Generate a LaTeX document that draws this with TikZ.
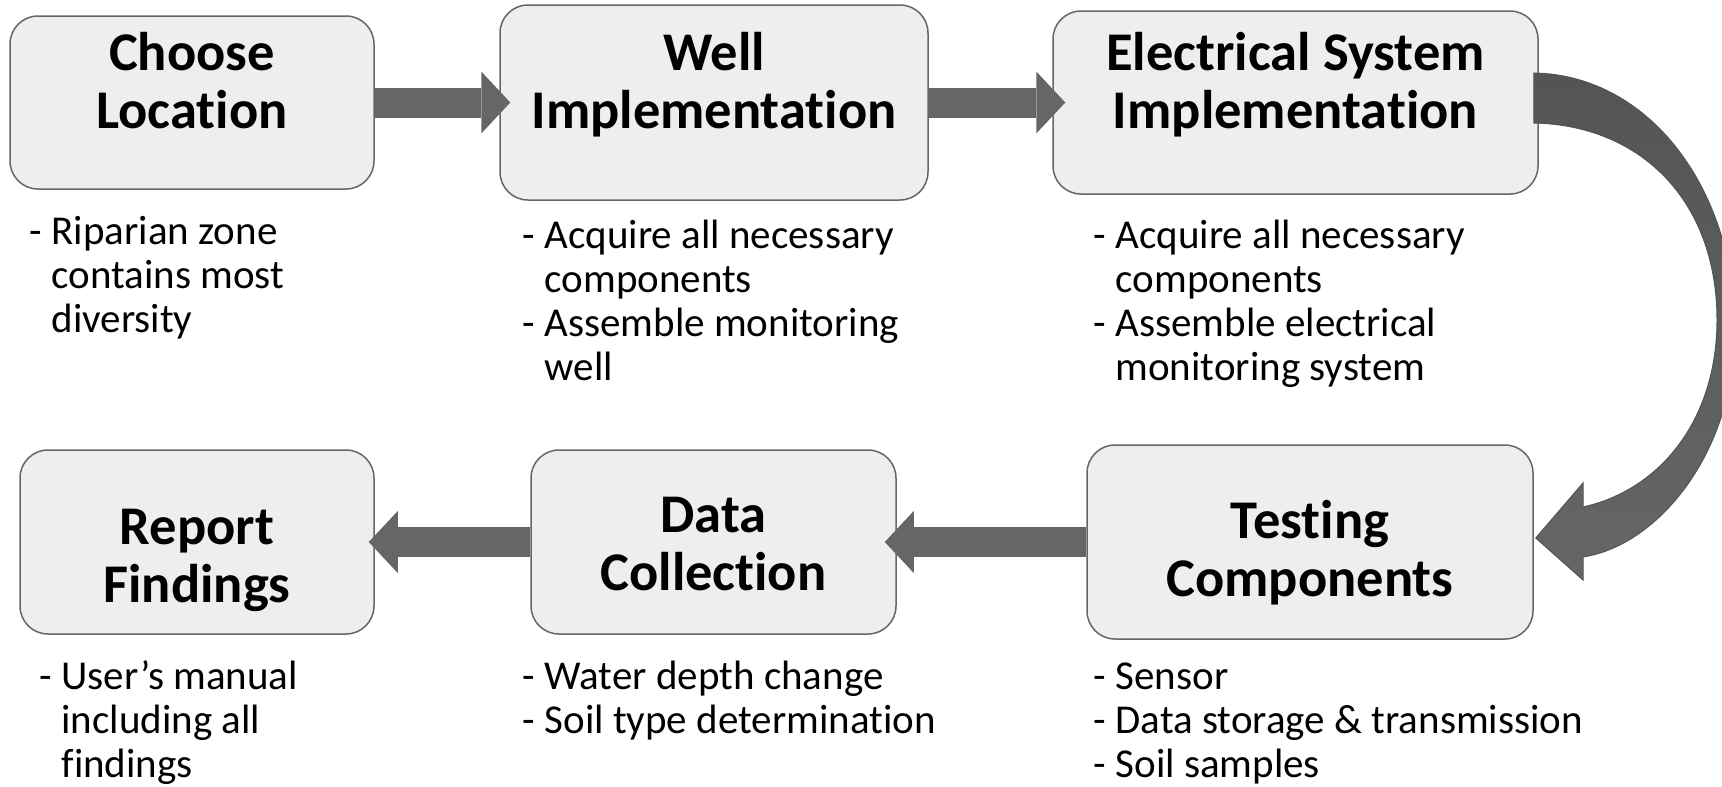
\documentclass[tikz,border=0pt]{standalone}
\usepackage{fontspec}
\setmainfont{Carlito}[Ligatures=NoCommon]
\usetikzlibrary{arrows.meta}
\definecolor{boxgray}{RGB}{238,238,238}
\definecolor{edgegray}{RGB}{102,102,102}
\definecolor{arrowgray}{RGB}{102,102,102}
\definecolor{bendgray}{RGB}{84,84,84}
\newcommand{\titlefont}{\fontsize{54.5}{58}\selectfont\bfseries}
\newcommand{\notefont}{\fontsize{41}{44}\selectfont}
\newcommand{\cont}{\phantom{- }}

\begin{document}
\begin{tikzpicture}[x=1pt, y=-1pt,
    stage/.style={draw=edgegray, fill=boxgray, line width=1.5pt, rounded corners=28pt, inner sep=0pt},
    heading/.style={anchor=north, inner sep=0pt, align=center, font=\titlefont},
    notes/.style={anchor=north west, inner sep=0pt, align=left, font=\notefont},
    flow/.style={draw=arrowgray, line width=30pt, -{Triangle[width=62pt, length=29pt, line width=0pt]}},
    bendarrow/.style={top color=bendgray, bottom color=arrowgray, draw=bendgray, line width=1pt}]
    \useasboundingbox[fill=white] (0,0) rectangle (1722,787);

    \node[stage, minimum width=364pt, minimum height=173pt] (choose)  at (192,102.5)  {};
    \node[stage, minimum width=428pt, minimum height=195pt] (well)    at (714,102.5)  {};
    \node[stage, minimum width=485pt, minimum height=183pt] (elec)    at (1295.5,102.5) {};
    \node[stage, minimum width=446pt, minimum height=194pt] (testing) at (1310,542)   {};
    \node[stage, minimum width=365pt, minimum height=184pt] (data)    at (713.5,542)  {};
    \node[stage, minimum width=354pt, minimum height=184pt] (report)  at (197,542)    {};

    \draw[flow] (choose.east)  -- ([xshift=11]well.west);
    \draw[flow] (well.east)    -- ([xshift=13]elec.west);
    \draw[flow] (testing.west) -- ([xshift=-12]data.east);
    \draw[flow] (data.west)    -- ([xshift=-6]report.east);

    \path[bendarrow] ([shift={(-5,-29.5)}]elec.east) .. controls (1650,75) and (1735,190) .. (1735,330)
        .. controls (1735,450) and (1660,545) .. (1583,557) -- (1583,580)
        -- ([shift={(2,-4)}]testing.east) -- (1583,483) -- (1583,507)
        .. controls (1660,490) and (1717,420) .. (1717,320)
        .. controls (1717,200) and (1640,125) .. ([shift={(-5,20.5)}]elec.east) -- cycle;

    \node[heading] (chooset)  at (192,29.4)    {\strut Choose\\Location};
    \node[heading] (wellt)    at (714,29.4)    {\strut Well\\Implementation};
    \node[heading] (elect)    at (1295.5,29.4) {\strut Electrical System\\Implementation};
    \node[heading] (testingt) at (1310,497.4)  {\strut Testing\\Components};
    \node[heading] (datat)    at (713.5,491.9) {\strut Data\\Collection};
    \node[heading] (reportt)  at (197,503.9)   {\strut Report\\Findings};

    \node[notes] (choosen)  at (29.6,213.2)   {\strut- Riparian zone\\\cont contains most\\\cont diversity};
    \node[notes] (welln)    at (522.6,217.2)  {\strut- Acquire all necessary\\\cont components\\- Assemble monitoring\\\cont well};
    \node[notes] (elecn)    at (1093.6,217.2) {\strut- Acquire all necessary\\\cont components\\- Assemble electrical\\\cont monitoring system};
    \node[notes] (testingn) at (1093.6,658.2) {\strut- Sensor\\- Data storage \& transmission\\- Soil samples};
    \node[notes] (datan)    at (522.6,658.2)  {\strut- Water depth change\\- Soil type determination};
    \node[notes] (reportn)  at (39.5,658.2)   {\strut- User’s manual\\\cont including all\\\cont findings};
\end{tikzpicture}
\end{document}
